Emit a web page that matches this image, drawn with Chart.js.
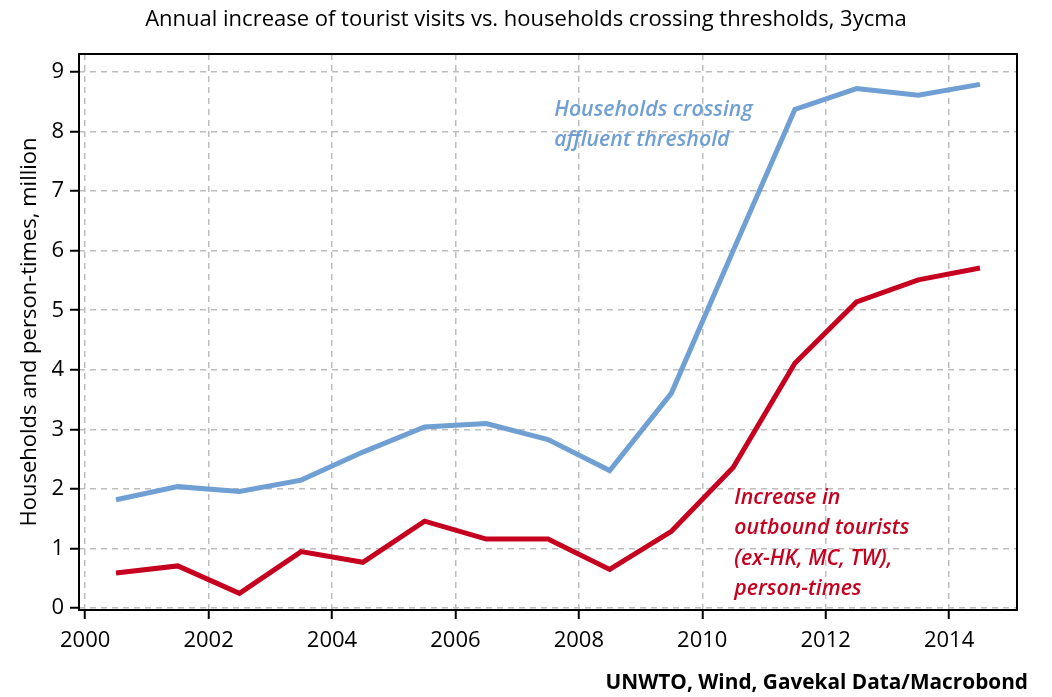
<!DOCTYPE html>
<html>
<head>
<meta charset="utf-8">
<script src="https://cdn.jsdelivr.net/npm/chart.js@4.4.1/dist/chart.umd.min.js"></script>
<style>
  html, body { margin: 0; padding: 0; background: #fff; }
  #wrap { width: 1052px; height: 697px; }
</style>
</head>
<body>
<div id="wrap"><canvas id="chart" width="1052" height="697"></canvas></div>
<script>
// data, points sit mid-year
var years = [2000.5, 2001.5, 2002.5, 2003.5, 2004.5, 2005.5, 2006.5, 2007.5, 2008.5, 2009.5, 2010.5, 2011.5, 2012.5, 2013.5, 2014.5];
var households = [1.82, 2.04, 1.96, 2.15, 2.62, 3.04, 3.10, 2.83, 2.31, 3.61, 6.0, 8.37, 8.72, 8.61, 8.79];
var tourists = [0.59, 0.71, 0.25, 0.95, 0.77, 1.46, 1.16, 1.16, 0.65, 1.29, 2.36, 4.11, 5.14, 5.51, 5.71];
var xTicks = [2000, 2002, 2004, 2006, 2008, 2010, 2012, 2014];

var titleText = 'Annual increase of tourist visits vs. households crossing thresholds, 3ycma';
var sourceText = 'UNWTO, Wind, Gavekal Data/Macrobond';
var yTitle = 'Households and person-times, million';

var BLUE = '#6f9fd3';
var RED = '#c6001f';
var FONT = '"Open Sans", "Noto Sans", sans-serif';

function pairs(xs, ys) {
  return ys.map(function (v, i) { return { x: xs[i], y: v }; });
}

// frame, title, source and series labels drawn straight on the canvas
var extras = {
  id: 'extras',
  afterDraw: function (chart) {
    var ctx = chart.ctx, a = chart.chartArea;
    var xs = chart.scales.x, ys = chart.scales.y;
    ctx.save();
    ctx.strokeStyle = '#000';
    ctx.lineWidth = 2;
    ctx.strokeRect(a.left, a.top, a.right - a.left, a.bottom - a.top);

    ctx.fillStyle = '#000';
    ctx.textAlign = 'center';
    ctx.textBaseline = 'middle';
    ctx.font = '22px ' + FONT;
    ctx.fillText(titleText, 526, 20);

    ctx.textAlign = 'right';
    ctx.font = 'bold 20.8px ' + FONT;
    ctx.fillText(sourceText, 1028, 683);

    ctx.textAlign = 'left';
    ctx.font = 'italic 600 21.3px ' + FONT;
    ctx.fillStyle = BLUE;
    var bx = xs.getPixelForValue(2007.6);
    ctx.fillText('Households crossing', bx, ys.getPixelForValue(8.36));
    ctx.fillText('affluent threshold', bx, ys.getPixelForValue(7.86));

    ctx.fillStyle = RED;
    var rx = xs.getPixelForValue(2010.52);
    var redLines = ['Increase in', 'outbound tourists', '(ex-HK, MC, TW),', 'person-times'];
    redLines.forEach(function (t, i) {
      ctx.fillText(t, rx, ys.getPixelForValue(1.85 - i * 0.51));
    });
    ctx.restore();
  }
};

new Chart(document.getElementById('chart'), {
  type: 'line',
  data: {
    datasets: [{
      label: 'Households crossing affluent threshold',
      data: pairs(years, households),
      borderColor: BLUE,
      borderWidth: 5,
      pointRadius: 0,
      tension: 0
    }, {
      label: 'Increase in outbound tourists',
      data: pairs(years, tourists),
      borderColor: RED,
      borderWidth: 5,
      pointRadius: 0,
      tension: 0
    }]
  },
  options: {
    responsive: false,
    animation: false,
    layout: { padding: { top: 54, right: 35, bottom: 26, left: 0 } },
    plugins: { legend: { display: false }, tooltip: { enabled: false } },
    scales: {
      x: {
        type: 'linear',
        min: 1999.9,
        max: 2015.1,
        afterBuildTicks: function (s) { s.ticks = xTicks.map(function (v) { return { value: v }; }); },
        afterFit: function (s) { s.height = 61; },
        grid: { color: '#bdbdbd', lineWidth: 1.5, tickLength: 9, tickColor: '#000', tickWidth: 2, tickBorderDash: [] },
        border: { display: false, dash: [6, 5] },
        ticks: { color: '#000', font: { family: FONT, size: 22 }, padding: 9, maxRotation: 0,
                 callback: function (v) { return String(v); } }
      },
      y: {
        min: -0.03,
        max: 9.3,
        ticks: { stepSize: 1, includeBounds: false, color: '#000', font: { family: FONT, size: 22 }, padding: 6 },
        afterFit: function (s) { s.width = 79; },
        grid: { color: '#bdbdbd', lineWidth: 1.5, tickLength: 9, tickColor: '#000', tickWidth: 2, tickBorderDash: [] },
        border: { display: false, dash: [6, 5] },
        title: { display: true, text: yTitle, color: '#000', font: { family: FONT, size: 22 }, padding: { top: 17, bottom: 0 } }
      }
    }
  },
  plugins: [extras]
});
</script>
</body>
</html>
